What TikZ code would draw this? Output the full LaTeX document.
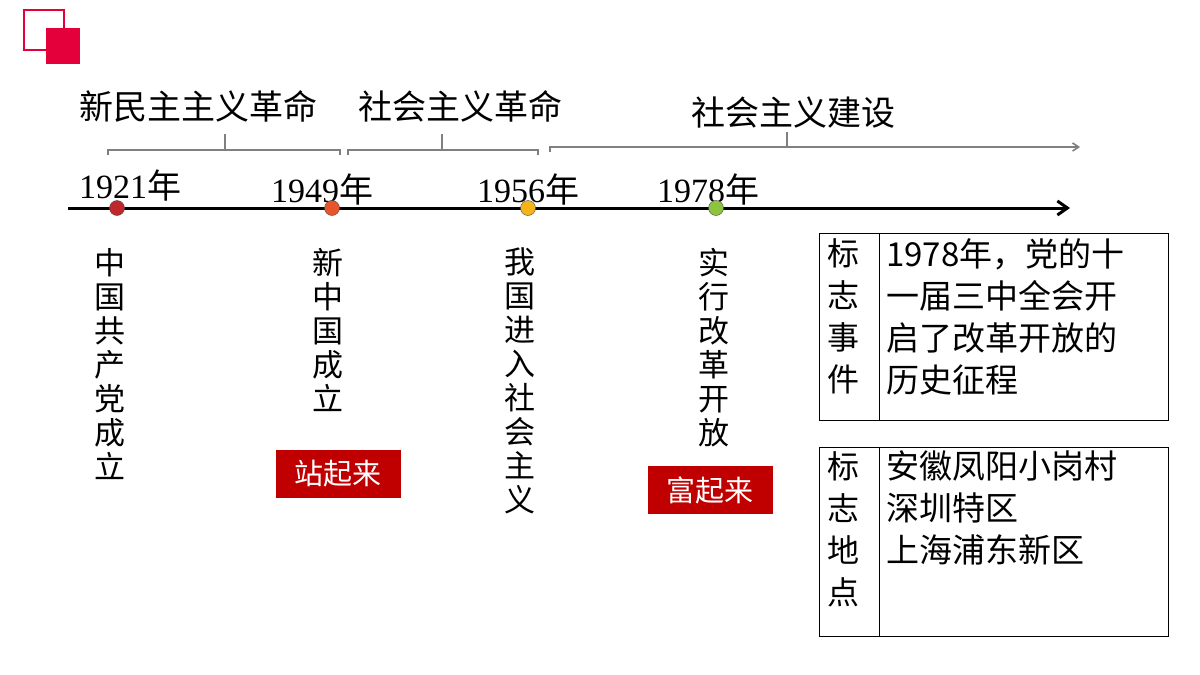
\documentclass[tikz,border=0pt]{standalone}
\usepackage{fontspec}
\setmainfont{Noto Sans CJK SC}
\newfontfamily\yearfont{Liberation Serif}
\usetikzlibrary{arrows.meta}
\definecolor{logored}{HTML}{E4003A}
\definecolor{boxred}{HTML}{C00000}
\tikzset{
  yearlabel/.style={font=\fontsize{34}{34}\selectfont},
  phaselabel/.style={font=\fontsize{34}{34}\selectfont},
  vtext/.style={anchor=north, align=center, font=\fontsize{31}{34}\selectfont, inner sep=0pt},
  slogan/.style={fill=boxred, text=white, font=\fontsize{29}{29}\selectfont, minimum width=125, minimum height=48, inner sep=0pt},
  bracket/.style={draw=gray, line width=1.6},
  tabletext/.style={anchor=north west, align=left, font=\fontsize{33}{42}\selectfont, inner sep=0pt},
}
\begin{document}
\begin{tikzpicture}[x=1pt,y=-1pt]
  \useasboundingbox (0,0) rectangle (1200,675);
  %Logo
  \draw[logored, line width=1.5] (24,10) rectangle (64,50);
  \fill[logored] (46,28) rectangle (80,64);

  %Achse
  \draw[line width=3, -{Straight Barb[length=10,width=14]}] (68,208) -- (1070,208);

  %Phasen
  \draw[bracket] (108,155) -- (108,150) -- (340,150) -- (340,155);
  \draw[bracket] (225,150) -- (225,134);
  \draw[bracket] (348,155) -- (348,150) -- (538,150) -- (538,155);
  \draw[bracket] (442,150) -- (442,134);
  \draw[bracket, -{Straight Barb[length=6,width=8]}] (550,152) -- (550,147) -- (1080,147);
  \draw[bracket] (787,147) -- (787,132);
  \node[phaselabel] (p1) at (198,106) {新民主主义革命};
  \node[phaselabel] (p2) at (460,106) {社会主义革命};
  \node[phaselabel] (p3) at (793,113) {社会主义建设};

  %Jahre
  \foreach \x/\c/\name/\yr/\lx/\ly in {117/C0272D/d1/1921/130/186, 332/E8542B/d2/1949/322/190, 528/F5B41A/d3/1956/528/190, 716/8CC43F/d4/1978/708/190}{
    \definecolor{dotcol}{HTML}{\c}
    \node[yearlabel] (y\name) at (\lx,\ly) {{\yearfont\yr}年};
    \node[circle, fill=dotcol, draw=black!70, inner sep=0pt, minimum size=15] (\name) at (\x,208) {};
  }

  %Ereignisse
  \node[vtext] (e1) at (110,248) {中\\国\\共\\产\\党\\成\\立};
  \node[vtext] (e2) at (328,248) {新\\中\\国\\成\\立};
  \node[vtext] (e3) at (520,248) {我\\国\\进\\入\\社\\会\\主\\义};
  \node[vtext] (e4) at (714,248) {实\\行\\改\\革\\开\\放};
  \node[slogan] (s1) at (338,474) {站起来};
  \node[slogan] (s2) at (710,490) {富起来};

  %Tabellen
  \draw[line width=1] (819,233) rectangle (1168,420) (879,233) -- (879,420);
  \node[vtext, font=\fontsize{32}{42}\selectfont] (t1) at (843,238) {标\\志\\事\\件};
  \node[tabletext] (t1r) at (886,238) {1978年，党的十\\一届三中全会开\\启了改革开放的\\历史征程};
  \draw[line width=1] (819,447) rectangle (1168,636) (879,447) -- (879,636);
  \node[vtext, font=\fontsize{32}{42}\selectfont] (t2) at (843,451) {标\\志\\地\\点};
  \node[tabletext] (t2r) at (886,451) {安徽凤阳小岗村\\深圳特区\\上海浦东新区};
\end{tikzpicture}
\end{document}
